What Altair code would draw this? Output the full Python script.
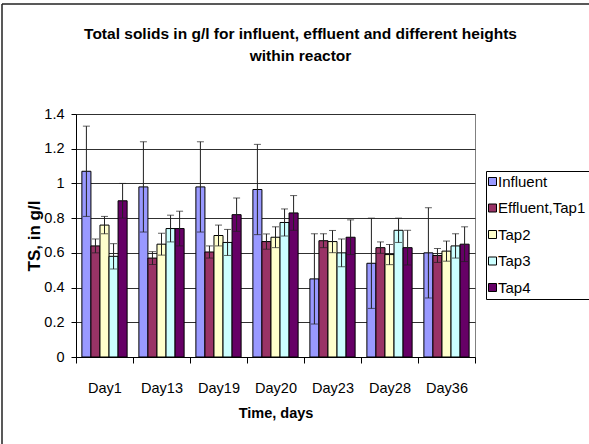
import altair as alt
import pandas as pd

days = ["Day1", "Day13", "Day19", "Day20", "Day23", "Day28", "Day36"]
series = ["Influent", "Effluent,Tap1", "Tap2", "Tap3", "Tap4"]
colors = ["#9999FF", "#993366", "#FFFFCC", "#CCFFFF", "#660066"]

influent = [1.07, 0.98, 0.98, 0.965, 0.45, 0.54, 0.60]
effluent = [0.64, 0.57, 0.605, 0.665, 0.67, 0.63, 0.585]
tap2 = [0.76, 0.65, 0.70, 0.69, 0.665, 0.59, 0.61]
tap3 = [0.58, 0.74, 0.66, 0.775, 0.60, 0.73, 0.64]
tap4 = [0.90, 0.74, 0.82, 0.83, 0.69, 0.63, 0.65]

influent_err = [0.26, 0.26, 0.26, 0.26, 0.26, 0.26, 0.26]
effluent_err = [0.04, 0.037, 0.035, 0.044, 0.04, 0.033, 0.04]
tap2_err = [0.05, 0.063, 0.06, 0.06, 0.064, 0.058, 0.058]
tap3_err = [0.073, 0.077, 0.075, 0.078, 0.08, 0.07, 0.07]
tap4_err = [0.10, 0.10, 0.096, 0.10, 0.10, 0.10, 0.10]

y_ticks = [0, 0.2, 0.4, 0.6, 0.8, 1.0, 1.2, 1.4]

vals = [influent, effluent, tap2, tap3, tap4]
errs = [influent_err, effluent_err, tap2_err, tap3_err, tap4_err]

rows = []
for s, v, e in zip(series, vals, errs):
    for d, vv, ee in zip(days, v, e):
        rows.append({"day": d, "series": s, "ts": vv, "lo": vv - ee, "hi": vv + ee})
df = pd.DataFrame(rows)

FONT = "Liberation Sans"

x_enc = alt.X("day:N", sort=days, title="Time, days",
              scale=alt.Scale(paddingInner=0, paddingOuter=0),
              axis=alt.Axis(tickBand="extent", labelAngle=0, labelFontSize=14.5,
                            labelPadding=18, tickSize=6, titleFontSize=14.5,
                            titlePadding=12, grid=False, domainColor="black",
                            tickColor="black", labelColor="black",
                            titleColor="black"))
xo_enc = alt.XOffset("series:N", sort=series,
                     scale=alt.Scale(paddingInner=0, paddingOuter=0.65))

y_scale = alt.Scale(domain=[0, 1.4], nice=False)
y_axis = alt.Axis(values=y_ticks, format="~g", labelFontSize=14.5, tickSize=5,
                  labelPadding=7, titleFontSize=17, titlePadding=0,
                  gridColor="#303030", domainColor="black",
                  tickColor="black", labelColor="black", titleColor="black")
Y_TITLE = "TS, in g/l"

base = alt.Chart(df)

bars = base.mark_bar(stroke="black", strokeWidth=1).encode(
    x=x_enc,
    xOffset=xo_enc,
    y=alt.Y("ts:Q", title=Y_TITLE, scale=y_scale, axis=y_axis),
    color=alt.Color("series:N", sort=series,
                    scale=alt.Scale(domain=series, range=colors),
                    legend=alt.Legend(title=None, orient="none", legendX=410,
                                      legendY=57, symbolType="square",
                                      symbolSize=64, symbolStrokeColor="black",
                                      symbolStrokeWidth=1,
                                      symbolOffset={"expr": "-4"},
                                      labelFontSize=15,
                                      labelColor="black", rowPadding=10.5,
                                      padding=3, strokeColor="black",
                                      fillColor="white",
                                      labelOffset={"expr": "-2"})),
)

err_rule = base.mark_rule(color="#202020", strokeWidth=1).encode(
    x=x_enc, xOffset=xo_enc,
    y=alt.Y("lo:Q", title=Y_TITLE, scale=y_scale, axis=y_axis), y2="hi:Q")
cap_hi = base.mark_tick(color="#202020", size=7, thickness=1).encode(
    x=x_enc, xOffset=xo_enc,
    y=alt.Y("hi:Q", title=Y_TITLE, scale=y_scale, axis=y_axis))
cap_lo = base.mark_tick(color="#202020", size=7, thickness=1).encode(
    x=x_enc, xOffset=xo_enc,
    y=alt.Y("lo:Q", title=Y_TITLE, scale=y_scale, axis=y_axis))

frame_top = alt.Chart(pd.DataFrame({"k": [0]})).mark_rule(
    color="#222222", strokeWidth=1.5).encode(
    x=alt.value(-74), x2=alt.value(520), y=alt.value(-110))
frame_left = alt.Chart(pd.DataFrame({"k": [0]})).mark_rule(
    color="#222222", strokeWidth=1.5).encode(
    x=alt.value(-74), y=alt.value(-110), y2=alt.value(340))

chart = alt.layer(bars, err_rule, cap_hi, cap_lo, frame_top, frame_left).properties(
    width=399, height=243,
    title=alt.TitleParams(
        ["Total solids in g/l for influent, effluent and different heights",
         "within reactor"],
        fontSize=15.5, fontWeight="bold", color="black", anchor="middle",
        font=FONT, dx=25, offset=-61, lineHeight=22),
    autosize=alt.AutoSizeParams(type="none"),
    padding={"left": 76, "top": 114, "right": 114, "bottom": 87},
).configure(font=FONT).configure_view(stroke="#808080").configure_axis(
    labelFont=FONT, titleFont=FONT).configure_legend(labelFont=FONT)

chart.save("out.html", embed_options={"renderer": "svg", "actions": False})
